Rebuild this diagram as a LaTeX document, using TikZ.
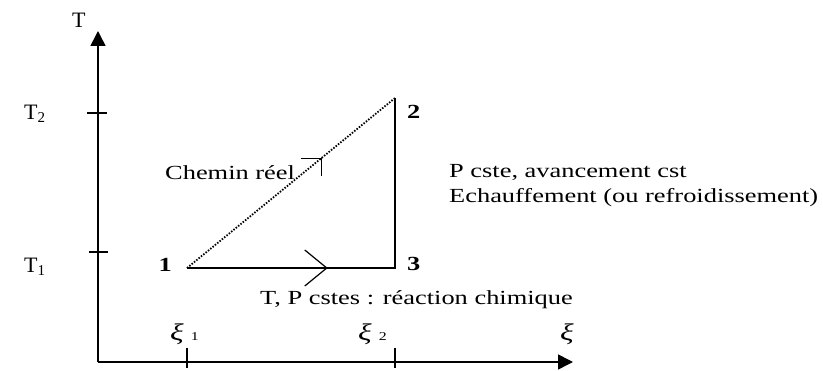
\documentclass[tikz,border=0pt]{standalone}
\usepackage{fontspec}
\setmainfont{Liberation Serif}
\newfontfamily\largefont{Liberation Serif}[FakeStretch=1.32]
\usetikzlibrary{arrows.meta,positioning}

\newcommand{\indice}[1]{\raisebox{-3pt}{\fontsize{15}{15}\selectfont #1}}
\newcommand{\xilettre}{{\largefont\itshape\fontsize{24}{24}\selectfont ξ}}
\newcommand{\xiind}[1]{\xilettre\hspace{7pt}{\largefont\fontsize{12}{12}\selectfont #1}}

\begin{document}
\begin{tikzpicture}[x=1pt, y=1pt, every node/.style={inner sep=0pt, font=\largefont\fontsize{20}{25}\selectfont}, axis/.style={line width=1.6pt, -{Triangle[length=15pt,width=15pt]}}, tick/.style={line width=1.6pt}, chem/.style={line width=1.6pt}, reel/.style={line width=1.8pt, dash pattern=on 1.5pt off 1.5pt}, num/.style={font=\largefont\fontsize{20}{25}\selectfont\bfseries}, axlbl/.style={font=\fontsize{22}{26}\selectfont, anchor=base west}, txt/.style={anchor=base west, align=left}]
\useasboundingbox (0,0) rectangle (823,370);
% axes
\coordinate (O) at (98,8);
\coordinate (ytip) at (98,339);
\coordinate (xtip) at (573,8);
\draw[axis] (O) -- (ytip);
\draw[axis] (O) -- (xtip);
\node[axlbl] (T) at (72,342) {T};
\node[axlbl] (xi) at (560,30) {\xilettre};
% graduations
\coordinate (t2) at (98,257);
\coordinate (t1) at (98,118);
\coordinate (x1) at (187,8);
\coordinate (x2) at (395,8);
\draw[tick] ([xshift=-11pt]t2) -- ([xshift=9pt]t2);
\draw[tick] ([xshift=-9pt]t1) -- ([xshift=10pt]t1);
\draw[tick] ([yshift=-6pt]x1) -- ([yshift=14pt]x1);
\draw[tick] ([yshift=-6pt]x2) -- ([yshift=14pt]x2);
\node[axlbl] (T2) at (24,250) {T\indice{2}};
\node[axlbl] (T1) at (24,97) {T\indice{1}};
\node[axlbl] (xi1) at (170,30) {\xiind{1}};
\node[axlbl] (xi2) at (358,30) {\xiind{2}};
% etats
\coordinate (p1) at (187,102);
\coordinate (p2) at (395,272);
\coordinate (p3) at (395,102);
\node[num, left=15pt of p1, yshift=3pt] (n1) {1};
\node[num, below right=7pt and 12pt of p2] (n2) {2};
\node[num, right=12pt of p3, yshift=4pt] (n3) {3};
% chemins
\draw[reel] (p1) -- coordinate[pos=0.645] (m12) (p2);
\draw[chem] (p1) -- coordinate[pos=0.672] (m13) (p3) -- (p2);
\draw[line width=1.2pt] (m13) ++(-22,18) -- (m13) -- ++(-22,-18);
\draw[line width=1.2pt] (m12) ++(-20,0) -- (m12) -- ++(0,-18);
% textes
\node[txt] (reel) at (165,190) {Chemin réel};
\node[txt] (iso) at (449,167) {P cste, avancement cst\\Echauffement (ou refroidissement)};
\node[txt] (react) at (260,65) {T, P cstes : réaction chimique};
\end{tikzpicture}
\end{document}
